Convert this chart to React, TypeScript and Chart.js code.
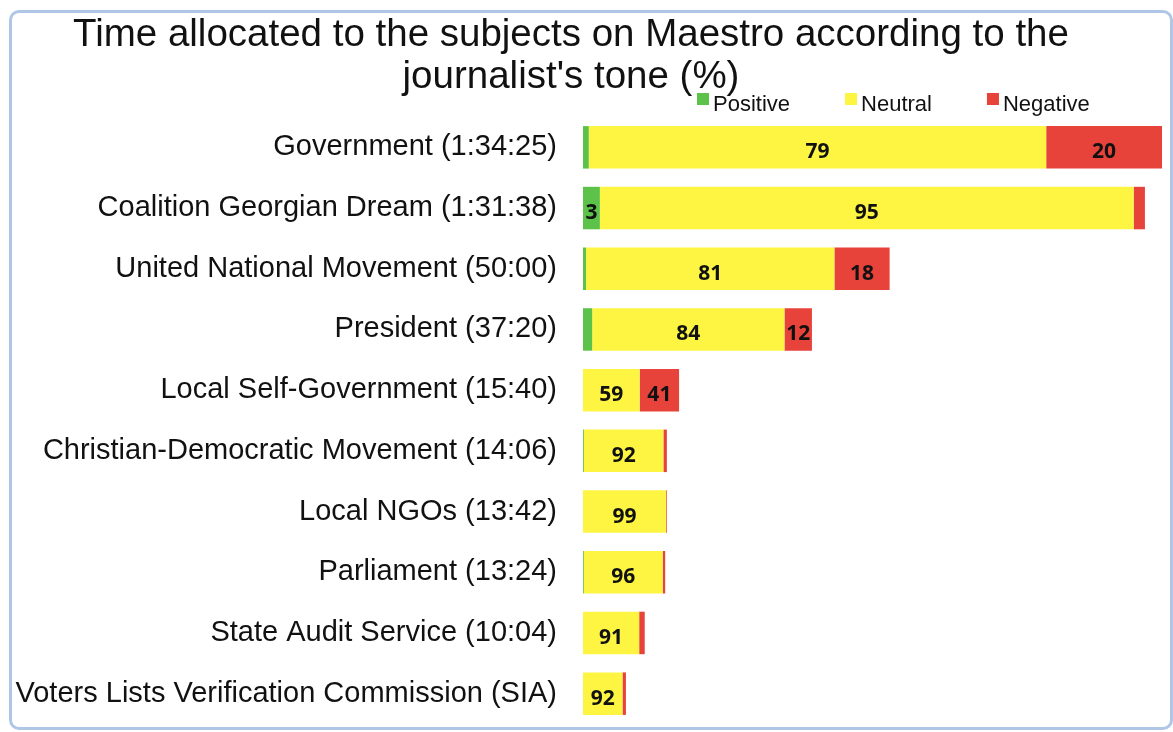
import React, { useEffect, useRef } from "react";
import { Chart, registerables } from "chart.js";

Chart.register(...registerables);

// ---- data ----
const categories = [
  "Government (1:34:25)",
  "Coalition Georgian Dream (1:31:38)",
  "United National Movement (50:00)",
  "President (37:20)",
  "Local Self-Government (15:40)",
  "Christian-Democratic Movement (14:06)",
  "Local NGOs (13:42)",
  "Parliament (13:24)",
  "State Audit Service (10:04)",
  "Voters Lists Verification Commission (SIA)",
];
// total airtime of each subject, seconds (SIA)
const durationsSec = [5665, 5498, 3000, 2240, 940, 846, 822, 804, 604, 420];
const positivePct = [1, 3, 1, 4, 0, 1, 0, 1, 0, 0];
const neutralPct = [79, 95, 81, 84, 59, 92, 99, 96, 91, 92];
const negativePct = [20, 2, 18, 12, 41, 4, 1, 3, 9, 8];
const seriesNames = ["Positive", "Neutral", "Negative"];
const seriesColors = ["#5cc24a", "#fdf542", "#e8433b"];
const titleLines = [
  "Time allocated to the subjects on Maestro according to the",
  "journalist's tone (%)",
];

const pctSeries = [positivePct, neutralPct, negativePct];

const barLabels = {
  id: "barLabels",
  afterDatasetsDraw(chart: any) {
    const ctx = chart.ctx;
    ctx.save();
    ctx.font = "bold 21px 'Open Sans', sans-serif";
    ctx.fillStyle = "#111111";
    ctx.textAlign = "center";
    ctx.textBaseline = "middle";
    chart.data.datasets.forEach((ds: any, i: number) => {
      const meta = chart.getDatasetMeta(i);
      meta.data.forEach((el: any, j: number) => {
        const { x, base, y } = el.getProps(["x", "base", "y"], true);
        const w = Math.abs(x - base);
        const v = ds.pct[j];
        if (v > 0 && w >= 14) ctx.fillText(String(v), (x + base) / 2, y + 5);
      });
    });
    ctx.restore();
  },
};

const titleAndLegend = {
  id: "titleAndLegend",
  afterDraw(chart: any) {
    const ctx = chart.ctx;
    ctx.save();
    ctx.fillStyle = "#111111";
    ctx.textAlign = "center";
    ctx.textBaseline = "alphabetic";
    ctx.font = "38.5px 'Liberation Sans', Arial, sans-serif";
    ctx.fillText(titleLines[0], 571, 46);
    ctx.fillText(titleLines[1], 571, 88);

    ctx.font = "22px 'Liberation Sans', Arial, sans-serif";
    ctx.textAlign = "left";
    let x = 697;
    chart.data.datasets.forEach((ds: any) => {
      ctx.fillStyle = ds.backgroundColor;
      ctx.fillRect(x, 93, 12, 12);
      ctx.fillStyle = "#111111";
      ctx.fillText(ds.label, x + 16, 111);
      x += 16 + ctx.measureText(ds.label).width + 55;
    });
    ctx.restore();
  },
};

export default function App() {
  const ref = useRef<HTMLCanvasElement | null>(null);

  useEffect(() => {
    if (!ref.current) return;
    const chart = new Chart(ref.current, {
      type: "bar",
      data: {
        labels: categories,
        datasets: seriesNames.map((name, i) => ({
          label: name,
          data: durationsSec.map((d, j) => (d * pctSeries[i][j]) / 100),
          pct: pctSeries[i],
          backgroundColor: seriesColors[i],
          borderWidth: 0,
          barPercentage: 0.7,
          categoryPercentage: 1,
        })) as any,
      },
      options: {
        indexAxis: "y",
        animation: false,
        responsive: false,
        layout: { padding: { top: 117, bottom: 8, left: 10, right: 11 } },
        plugins: {
          legend: { display: false },
          title: { display: false },
          tooltip: { enabled: false },
        },
        scales: {
          x: {
            stacked: true,
            display: false,
            min: 0,
            max: Math.max(...durationsSec),
          },
          y: {
            stacked: true,
            grid: { display: false, drawTicks: false },
            border: { display: false },
            ticks: {
              autoSkip: false,
              padding: 26,
              color: "#111111",
              font: { family: "'Liberation Sans', Arial, sans-serif", size: 29 },
            },
            afterFit: (s: any) => {
              s.width = 573;
              s.paddingTop = 0;
              s.paddingBottom = 0;
            },
          },
        },
      },
      plugins: [barLabels, titleAndLegend],
    });
    return () => chart.destroy();
  }, []);

  return (
    <div style={{ position: "absolute", left: 0, top: 0, width: 1173, height: 732, background: "#ffffff" }}>
      <div
        style={{
          position: "absolute",
          left: 9,
          top: 10,
          width: 1164,
          height: 720,
          boxSizing: "border-box",
          border: "3px solid #afc6e6",
          borderRadius: 10,
        }}
      />
      <canvas
        ref={ref}
        width={1173}
        height={732}
        style={{ position: "absolute", left: 0, top: 0, display: "block" }}
      />
    </div>
  );
}
